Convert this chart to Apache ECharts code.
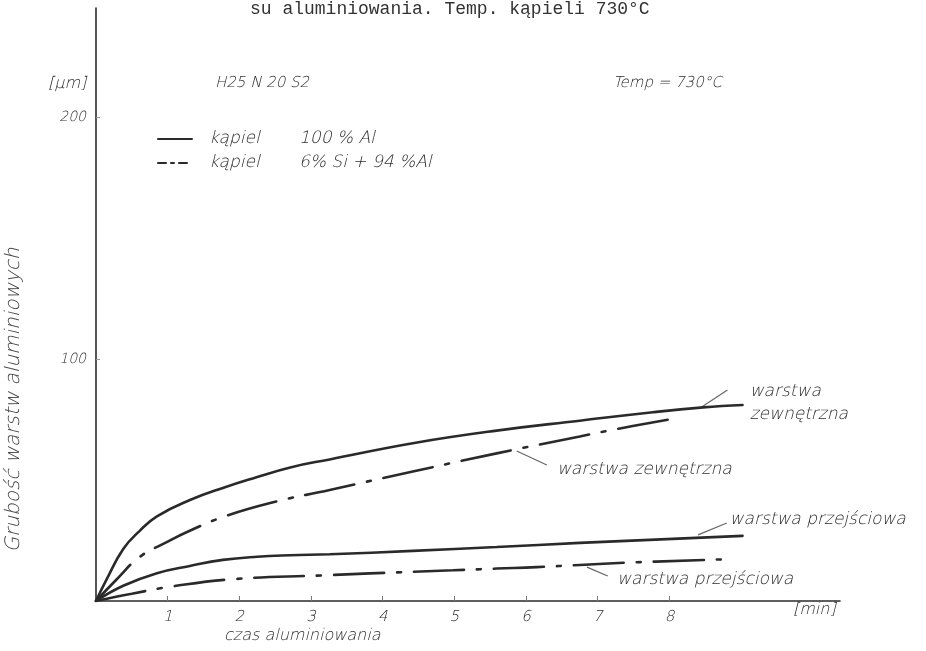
<!DOCTYPE html>
<html>
<head>
<meta charset="utf-8">
<script src="https://cdn.jsdelivr.net/npm/echarts@6/dist/echarts.min.js"></script>
<style>html,body{margin:0;padding:0;background:#fff}#c{width:926px;height:651px}</style>
</head>
<body>
<div id="c"></div>
<script>
// ---- data (time in min, thickness in µm) ----
const xTicks = [1, 2, 3, 4, 5, 6, 7, 8];
const xTickLabels = ['1', '2', '3', '4', '5', '6', '7', '8'];
const yTicks = [100, 200];
const yTickLabels = ['100', '200'];
const bathNames = ['100 % Al', '6% Si + 94 %Al'];
const bathWord = 'kąpiel';

// bath 100 % Al – outer layer (warstwa zewnętrzna)
const outer100 = [[0,0],[0.15,9],[0.38,21.5],[0.61,29],[0.85,35],[1.31,41.7],[1.77,46.7],[2.25,51.2],[2.71,55.2],[3.26,58.5],[4.42,65.2],[5.59,70.4],[6.75,74.5],[7.77,78],[8.47,80],[9.02,81]];
// bath 6% Si + 94 % Al – outer layer
const outer6Si = [[0,0],[0.29,9],[0.61,18.2],[1.0,24.5],[1.27,28.5],[1.77,34.7],[2.43,40.5],[3.26,45.9],[4.42,53.5],[5.59,61],[6.75,68],[7.31,71.3],[8.15,75.8]];
// bath 100 % Al – transition layer (warstwa przejściowa)
const inter100 = [[0,0],[0.38,6.3],[0.85,11.5],[1.31,14.5],[1.77,17],[2.25,18.3],[2.71,18.9],[3.26,19.3],[4.42,20.7],[5.59,22.3],[6.75,24],[9.02,26.9]];
// bath 6% Si + 94 % Al – transition layer
const inter6Si = [[0,0],[0.5,3],[1.06,6],[1.9,9],[3.17,10.6],[3.82,11.4],[4.98,12.7],[5.59,13.4],[6.15,14],[6.75,14.9],[7.55,16],[8.75,17.2]];

// annotations (anchored in data coordinates)
const notes = [
  {text: 'warstwa\nzewnętrzna', at: [9.12, 81.6], from: [8.81, 87.2], to: [8.45, 80.2]},
  {text: 'warstwa zewnętrzna', at: [6.43, 54.1], from: [6.29, 56.2], to: [5.87, 62]},
  {text: 'warstwa przejściowa', at: [8.84, 33.5], from: [8.8, 32.2], to: [8.4, 27.3]},
  {text: 'warstwa przejściowa', at: [7.27, 8.7], from: [7.14, 10.3], to: [6.85, 14]}
];

// ---- styles ----
const ink = '#2a2a2a';
const textInk = '#2e2e2e';
const hand = "'DejaVu Sans ExtraLight', 'DejaVu Sans Light', 'DejaVu Sans', sans-serif";
const handW = 200;
const dashDot = [50, 13, 4, 13];

const chart = echarts.init(document.getElementById('c'), null, {renderer: 'canvas'});

function lineSeries(name, data, dashed) {
  return {
    name: name, type: 'line', data: data, symbol: 'none', smooth: 0.45,
    silent: true, color: ink,
    lineStyle: {color: ink, width: 2.6, type: dashed ? dashDot : 'solid', cap: 'round'}
  };
}

const tickFont = {color: textInk, fontFamily: hand, fontStyle: 'italic', fontSize: 15, fontWeight: handW};

chart.setOption({
  animation: false,
  backgroundColor: '#ffffff',
  grid: {left: 96, right: 86, top: 8, bottom: 50},
  xAxis: {
    type: 'value', min: 0, max: 10.38, interval: 1,
    axisLine: {lineStyle: {color: ink, width: 1.6}},
    axisTick: {show: true, inside: true, length: 5, customValues: xTicks, lineStyle: {color: '#777', width: 1}},
    axisLabel: Object.assign({customValues: xTicks, margin: 9,
      formatter: v => xTickLabels[xTicks.indexOf(v)] || ''}, tickFont),
    splitLine: {show: false}
  },
  yAxis: {
    type: 'value', min: 0, max: 245, interval: 100,
    axisLine: {show: true, lineStyle: {color: ink, width: 1.6}},
    axisTick: {show: true, inside: true, length: 4, customValues: yTicks, lineStyle: {color: '#999', width: 1}},
    axisLabel: Object.assign({customValues: yTicks, margin: 10,
      formatter: v => yTickLabels[yTicks.indexOf(v)] || ''}, tickFont, {fontSize: 14}),
    splitLine: {show: false}
  },
  legend: {
    orient: 'vertical', left: 152, top: 124, itemWidth: 34, itemHeight: 14, itemGap: 4,
    selectedMode: false,
    itemStyle: {opacity: 0},
    data: [
      {name: bathNames[0]},
      {name: bathNames[1], lineStyle: {type: [8, 5, 3, 5]}}
    ],
    formatter: name => '{a|' + bathWord + '}{b|' + name + '}',
    textStyle: {
      color: textInk, fontFamily: hand, fontStyle: 'italic', fontSize: 17, fontWeight: handW, lineHeight: 20,
      rich: {
        a: {width: 90, padding: [0, 0, 0, 12], color: textInk, fontFamily: hand, fontStyle: 'italic', fontSize: 17, fontWeight: handW},
        b: {color: textInk, fontFamily: hand, fontStyle: 'italic', fontSize: 17, fontWeight: handW}
      }
    }
  },
  series: [
    lineSeries(bathNames[0], outer100, false),
    lineSeries(bathNames[1], outer6Si, true),
    lineSeries(bathNames[0], inter100, false),
    lineSeries(bathNames[1], inter6Si, true)
  ]
});

// ---- text and leader lines ----
const g = [];
const handFont = (size) => 'italic ' + handW + ' ' + size + 'px ' + hand;
notes.forEach(n => {
  const p = chart.convertToPixel({gridIndex: 0}, n.at);
  const a = chart.convertToPixel({gridIndex: 0}, n.from);
  const b = chart.convertToPixel({gridIndex: 0}, n.to);
  g.push({type: 'text', x: p[0], y: p[1], silent: true,
    style: {text: n.text, fill: textInk, font: handFont(17), align: 'left', verticalAlign: 'middle', lineHeight: 23}});
  g.push({type: 'line', silent: true, shape: {x1: a[0], y1: a[1], x2: b[0], y2: b[1]},
    style: {stroke: '#666', lineWidth: 1.2}});
});
g.push({type: 'text', left: 250, top: 0, silent: true,
  style: {text: 'su aluminiowania. Temp. kąpieli 730°C', fill: '#333', font: '18px "Liberation Mono", "DejaVu Sans Mono", monospace'}});
g.push({type: 'text', left: 48, top: 76, silent: true, style: {text: '[µm]', fill: textInk, font: handFont(16)}});
g.push({type: 'text', left: 215, top: 76, silent: true, style: {text: 'H25 N 20 S2', fill: textInk, font: handFont(15)}});
g.push({type: 'text', left: 613, top: 76, silent: true, style: {text: 'Temp = 730°C', fill: textInk, font: handFont(15)}});
g.push({type: 'text', left: 793, top: 602, silent: true, style: {text: '[min]', fill: textInk, font: handFont(16)}});
g.push({type: 'text', left: 224, top: 628, silent: true, style: {text: 'czas aluminiowania', fill: textInk, font: handFont(16)}});
g.push({type: 'text', x: 14, y: 400, rotation: Math.PI / 2, silent: true,
  style: {text: 'Grubość warstw aluminiowych', fill: '#444', font: handFont(20), align: 'center', verticalAlign: 'middle'}});
chart.setOption({graphic: g});
</script>
</body>
</html>
